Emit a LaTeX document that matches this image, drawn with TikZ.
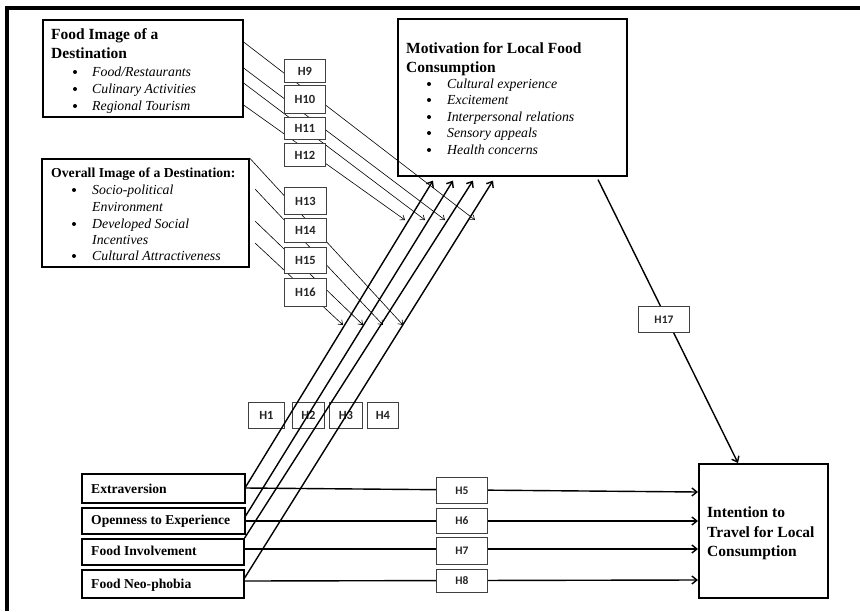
\documentclass[tikz,border=0pt]{standalone}
\usepackage{fontspec}
\setmainfont{Liberation Serif}
\newfontfamily\hfont{Carlito}
\usetikzlibrary{arrows.meta,calc}
\begin{document}
\begin{tikzpicture}[x=1pt,y=-1pt,
  bigbox/.style={draw, line width=1.6pt, fill=white, inner sep=0pt, anchor=north west},
  hbox/.style={draw=black!75, line width=0.9pt, fill=white, inner sep=0pt, anchor=north west, font=\hfont\bfseries\fontsize{12.5}{12.5}\selectfont, text=black!85},
  hsmall/.style={hbox, font=\hfont\bfseries\fontsize{11.5}{11.5}\selectfont},
  thinarrow/.style={line width=0.6pt, -{Straight Barb[length=4pt,width=6pt]}},
  thickarrow/.style={line width=1.4pt, -{Straight Barb[length=5pt,width=8pt]}},
  head/.style={anchor=base west, inner sep=0pt, font=\bfseries\fontsize{15.5}{15.5}\selectfont},
  headsm/.style={anchor=base west, inner sep=0pt, font=\bfseries\fontsize{13.7}{13.7}\selectfont},
  item/.style={anchor=base west, inner sep=0pt, font=\itshape\fontsize{13.8}{13.8}\selectfont},
  bul/.style={circle, fill=black, inner sep=0pt, minimum size=4pt},
  lab/.style={anchor=base west, inner sep=0pt, font=\bfseries\fontsize{13.6}{13.6}\selectfont},
]
\useasboundingbox (0,0) rectangle (860,611);
\fill[white] (0,0) rectangle (860,611);
% frame
\draw[line width=4pt] (5,8) -- (860,8);
\draw[line width=3.5pt] (7,6) -- (7,611);

% main boxes
\node[bigbox, minimum width=229pt, minimum height=157pt] (mot) at (397,18) {};
\node[bigbox, minimum width=200pt, minimum height=97pt] (fimg) at (42,19) {};
\node[bigbox, minimum width=207pt, minimum height=108pt] (oimg) at (41,158) {};

% food image text
\node[head] (fa) at (51,39) {Food Image of a};
\node[head] (fb) at (51,58) {Destination};
\node[bul] (fb1) at (75,72) {};
\node[item] (fi1) at (92,76) {Food/Restaurants};
\node[bul] (fb2) at (75,89) {};
\node[item] (fi2) at (92,93) {Culinary Activities};
\node[bul] (fb3) at (75,106) {};
\node[item] (fi3) at (92,110) {Regional Tourism};

% overall image text
\node[headsm] (oa) at (51,177) {Overall Image of a Destination:};
\node[bul] (ob1) at (74,190) {};
\node[item] (oi1) at (92,194) {Socio-political};
\node[item] (oi1b) at (92,211) {Environment};
\node[bul] (ob2) at (74,224) {};
\node[item] (oi2) at (92,228) {Developed Social};
\node[item] (oi2b) at (92,244) {Incentives};
\node[bul] (ob3) at (74,256) {};
\node[item] (oi3) at (92,260) {Cultural Attractiveness};

% motivation text
\node[head] (ma) at (406,53) {Motivation for Local Food};
\node[head] (mb) at (406,72) {Consumption};
\node[bul] (mb1) at (429,84) {};
\node[item] (mi1) at (447,88) {Cultural experience};
\node[bul] (mb2) at (429,100) {};
\node[item] (mi2) at (447,104) {Excitement};
\node[bul] (mb3) at (429,117) {};
\node[item] (mi3) at (447,121) {Interpersonal relations};
\node[bul] (mb4) at (429,133) {};
\node[item] (mi4) at (447,137) {Sensory appeals};
\node[bul] (mb5) at (429,150) {};
\node[item] (mi5) at (447,154) {Health concerns};

% thin arrows from food image
\coordinate (t9) at (475,220);
\coordinate (t10) at (445,220);
\coordinate (t11) at (425,220);
\coordinate (t12) at (405,220);
\draw[thinarrow] ($(fimg.north east)+(0,23)$) -- (t9);
\draw[thinarrow] ($(fimg.north east)+(0,49)$) -- (t10);
\draw[thinarrow] ($(fimg.north east)+(0,64)$) -- (t11);
\draw[thinarrow] ($(fimg.north east)+(0,86)$) -- (t12);

% thin arrows from overall image
\coordinate (t13) at (403,325);
\coordinate (t14) at (383,325);
\coordinate (t15) at (363,325);
\coordinate (t16) at (343,325);
\coordinate (s14) at (255,189);
\coordinate (s15) at (255,221);
\coordinate (s16) at (255,243);
\draw[thinarrow] (oimg.north east) -- (t13);
\draw[thinarrow] (s14) -- (t14);
\draw[thinarrow] (s15) -- (t15);
\draw[thinarrow] (s16) -- (t16);

% H9-H16
\node[hbox, minimum width=41pt, minimum height=23pt] (h9) at (284,59) {H9};
\node[hbox, minimum width=41pt, minimum height=28pt] (h10) at (284,85) {H10};
\node[hbox, minimum width=41pt, minimum height=22pt] (h11) at (284,117) {H11};
\node[hbox, minimum width=41pt, minimum height=23pt] (h12) at (284,143) {H12};
\node[hbox, minimum width=42pt, minimum height=27pt] (h13) at (284,187) {H13};
\node[hbox, minimum width=42pt, minimum height=24pt] (h14) at (284,218) {H14};
\node[hbox, minimum width=42pt, minimum height=26pt] (h15) at (284,247) {H15};
\node[hbox, minimum width=42pt, minimum height=28pt] (h16) at (284,278) {H16};

% H1-H4
\node[hbox, minimum width=36pt, minimum height=26pt] (h1) at (248,402) {H1};
\node[hbox, minimum width=32pt, minimum height=26pt] (h2) at (292,402) {H2};
\node[hbox, minimum width=33pt, minimum height=26pt] (h3) at (329,402) {H3};
\node[hbox, minimum width=31pt, minimum height=26pt] (h4) at (367,402) {H4};

% personality boxes
\node[bigbox, minimum width=163pt, minimum height=29pt] (ex) at (81,473) {};
\node[bigbox, minimum width=163pt, minimum height=26pt] (op) at (81,507) {};
\node[bigbox, minimum width=162pt, minimum height=26pt] (fin) at (81,538) {};
\node[bigbox, minimum width=162pt, minimum height=28pt] (fnp) at (81,569) {};
\node[lab] (exl) at (91,493) {Extraversion};
\node[lab] (opl) at (91,524) {Openness to Experience};
\node[lab] (finl) at (91,555) {Food Involvement};
\node[lab] (fnpl) at (91,588) {Food Neo-phobia};

% intention box
\node[bigbox, minimum width=129pt, minimum height=134pt] (int) at (698,463) {};
\node[head] (ia) at (707,517) {Intention to};
\node[head] (ib) at (707,537) {Travel for Local};
\node[head] (ic) at (707,556) {Consumption};

% thick arrows to motivation
\draw[thickarrow] ($(ex.north east)+(0,14)$) -- ($(mot.south west)+(36,4)$);
\draw[thickarrow] ($(op.north east)+(0,9)$) -- ($(mot.south west)+(56,4)$);
\draw[thickarrow] (fin.north east) -- ($(mot.south west)+(76,4)$);
\draw[thickarrow] ($(fnp.north east)+(0,9)$) -- ($(mot.south west)+(96,4)$);

% horizontal arrows to intention
\draw[thickarrow] ($(ex.north east)+(0,15)$) -- ($(int.north west)+(0,29)$);
\draw[thickarrow] ($(op.north east)+(0,14)$) -- ($(int.north west)+(0,58)$);
\draw[thickarrow] ($(fin.north east)+(0,11)$) -- ($(int.north west)+(0,86)$);
\draw[thickarrow] ($(fnp.north east)+(0,12)$) -- ($(int.north west)+(0,117)$);
\node[hsmall, minimum width=51pt, minimum height=26pt] (h5) at (436,477) {H5};
\node[hsmall, minimum width=51pt, minimum height=25pt] (h6) at (436,508) {H6};
\node[hsmall, minimum width=51pt, minimum height=27pt] (h7) at (436,537) {H7};
\node[hsmall, minimum width=51pt, minimum height=23pt] (h8) at (436,569) {H8};

% H17
\draw[thickarrow] ($(mot.south west)+(201,3)$) -- ($(int.north west)+(40,0)$);
\node[hsmall, minimum width=51pt, minimum height=26pt] (h17) at (638,306) {H17};
\end{tikzpicture}
\end{document}
